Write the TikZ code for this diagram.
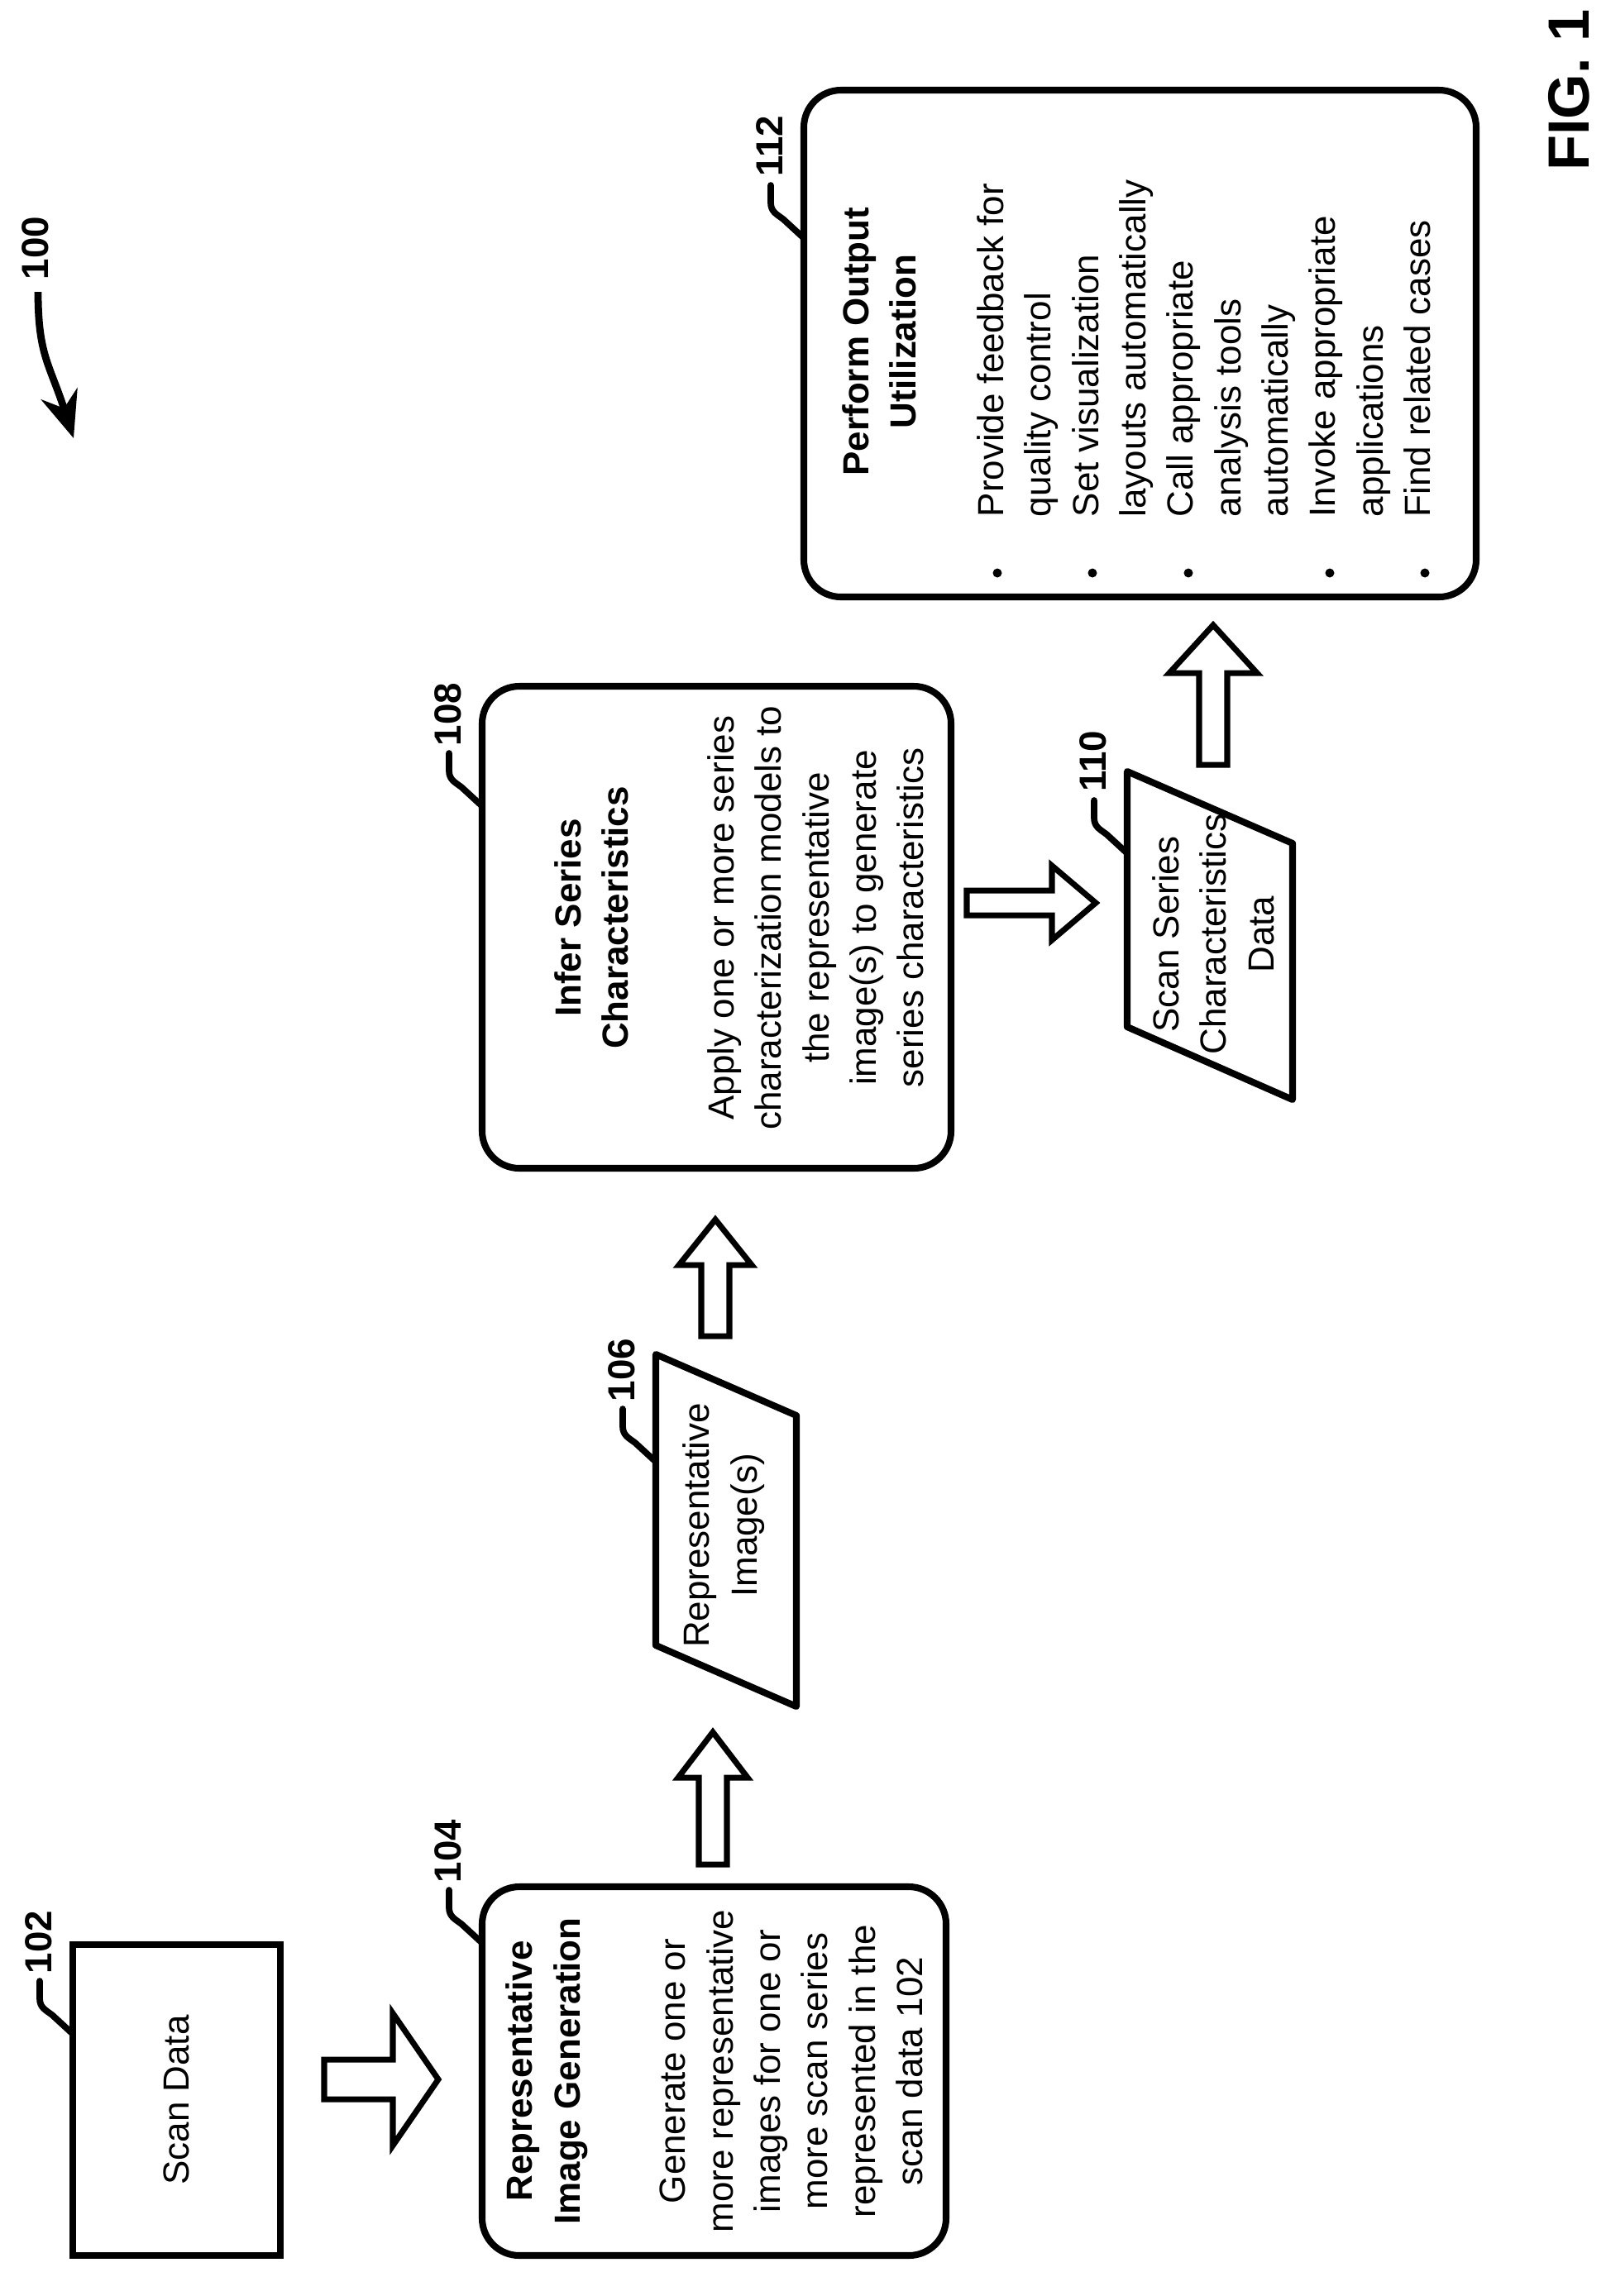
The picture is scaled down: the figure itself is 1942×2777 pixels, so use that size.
\documentclass[tikz,border=0pt]{standalone}
\usepackage{fontspec}
\setmainfont{Liberation Sans}
\usetikzlibrary{calc,arrows.meta}
\newcommand\blockarrow[7]{%
  \begin{scope}[shift={(#1,#2)},rotate=#7]
    \draw[barrow] (0,-#5) -- (#3-#4,-#5) -- (#3-#4,-#6) -- (#3,0) -- (#3-#4,#6) -- (#3-#4,#5) -- (0,#5) -- cycle;
  \end{scope}}
\newcommand\leadline[1]{%
  \draw[leader] ($(#1)+(-40,-64)$) -- ($(#1)+(-40,-43)$) .. controls ($(#1)+(-40,-32)$) and ($(#1)+(-33,-29)$) .. ($(#1)+(-25,-23)$) -- (#1);}
\begin{document}
\begin{tikzpicture}[x=0.01cm,y=-0.01cm,
  box/.style={draw,line width=2.3pt,rounded corners=0.45cm},
  sbox/.style={draw,line width=2.3pt},
  barrow/.style={line width=2pt,line join=miter},
  leader/.style={line width=2.2pt,line cap=round},
  lbl/.style={rotate=90,font=\bfseries\fontsize{13}{15}\selectfont,inner sep=0pt},
  txt/.style={rotate=90,align=center,font=\fontsize{12.5}{16.3}\selectfont,inner sep=0pt}]
\useasboundingbox (0,0) rectangle (1942,2777);

% shapes
\draw[sbox] (88,2352) rectangle (339,2728);
\node[txt] (t102) at (213,2540) {Scan Data};

\draw[box] (583,2282) rectangle (1144,2728);
\node[txt] (t104) at (864,2505) {\textbf{Representative}\\\textbf{Image Generation}\\[20pt]Generate one or\\more representative\\images for one or\\more scan series\\represented in the\\scan data 102};

\draw[line width=2.3pt,line join=round] (793,1638) -- (963,1712) -- (963,2064) -- (793,1990) -- cycle;
\node[txt] (t106) at (875,1845) {Representative\\Image(s)};

\draw[box] (583,830) rectangle (1150,1413);
\node[txt] (t108) at (894,1110) {\textbf{Infer Series}\\\textbf{Characteristics}\\[20pt]Apply one or more series\\characterization models to\\the representative\\image(s) to generate\\series characteristics};

\draw[line width=2.3pt,line join=round] (1363,933) -- (1563,1020) -- (1563,1330) -- (1363,1242) -- cycle;
\node[txt] (t110) at (1467,1130) {Scan Series\\Characteristics\\Data};

\draw[box] (972,109) rectangle (1785,722);
\node[txt] (t112a) at (1063,413) {\textbf{Perform Output}\\\textbf{Utilization}};
\node[rotate=90,anchor=north west,inner sep=0pt,align=left,
  font=\fontsize{12.5}{16.3}\selectfont] (t112b) at (1181,626) {Provide feedback for\\quality control\\Set visualization\\layouts automatically\\Call appropriate\\analysis tools\\automatically\\Invoke appropriate\\applications\\Find related cases};
\foreach \bx in {1206,1321,1437,1608,1723}
  \fill (\bx,693) circle (5.5);

% block arrows
\blockarrow{392}{2515}{138}{55}{24}{80}{0}
\blockarrow{862}{2255}{160}{55}{17}{42}{90}
\blockarrow{865}{1616}{141}{55}{17}{44}{90}
\blockarrow{1169}{1092}{156}{53}{15}{45}{0}
\blockarrow{1467}{925}{169}{58}{17}{53}{90}

% reference labels
\coordinate (e102) at (88,2460);
\coordinate (e104) at (583,2350);
\coordinate (e106) at (793,1768);
\coordinate (e108) at (583,975);
\coordinate (e110) at (1363,1032);
\coordinate (e112) at (972,288);
\foreach \n in {102,104,106,108,110,112}{
  \node[lbl] (l\n) at ($(e\n)+(-41,-111)$) {\n};
  \leadline{e\n}
}

\node[lbl] (l100) at (43,300) {100};
\coordinate (a100) at (89,530);
\draw[line width=2.5pt,-{Stealth[length=16pt,width=13pt]}] (46,353) .. controls (46,430) and (60,440) .. (a100);

\node[rotate=90,font=\bfseries\fontsize{20}{24}\selectfont,inner sep=0pt] (fig) at (1897,109) {FIG. 1};
\end{tikzpicture}
\end{document}
